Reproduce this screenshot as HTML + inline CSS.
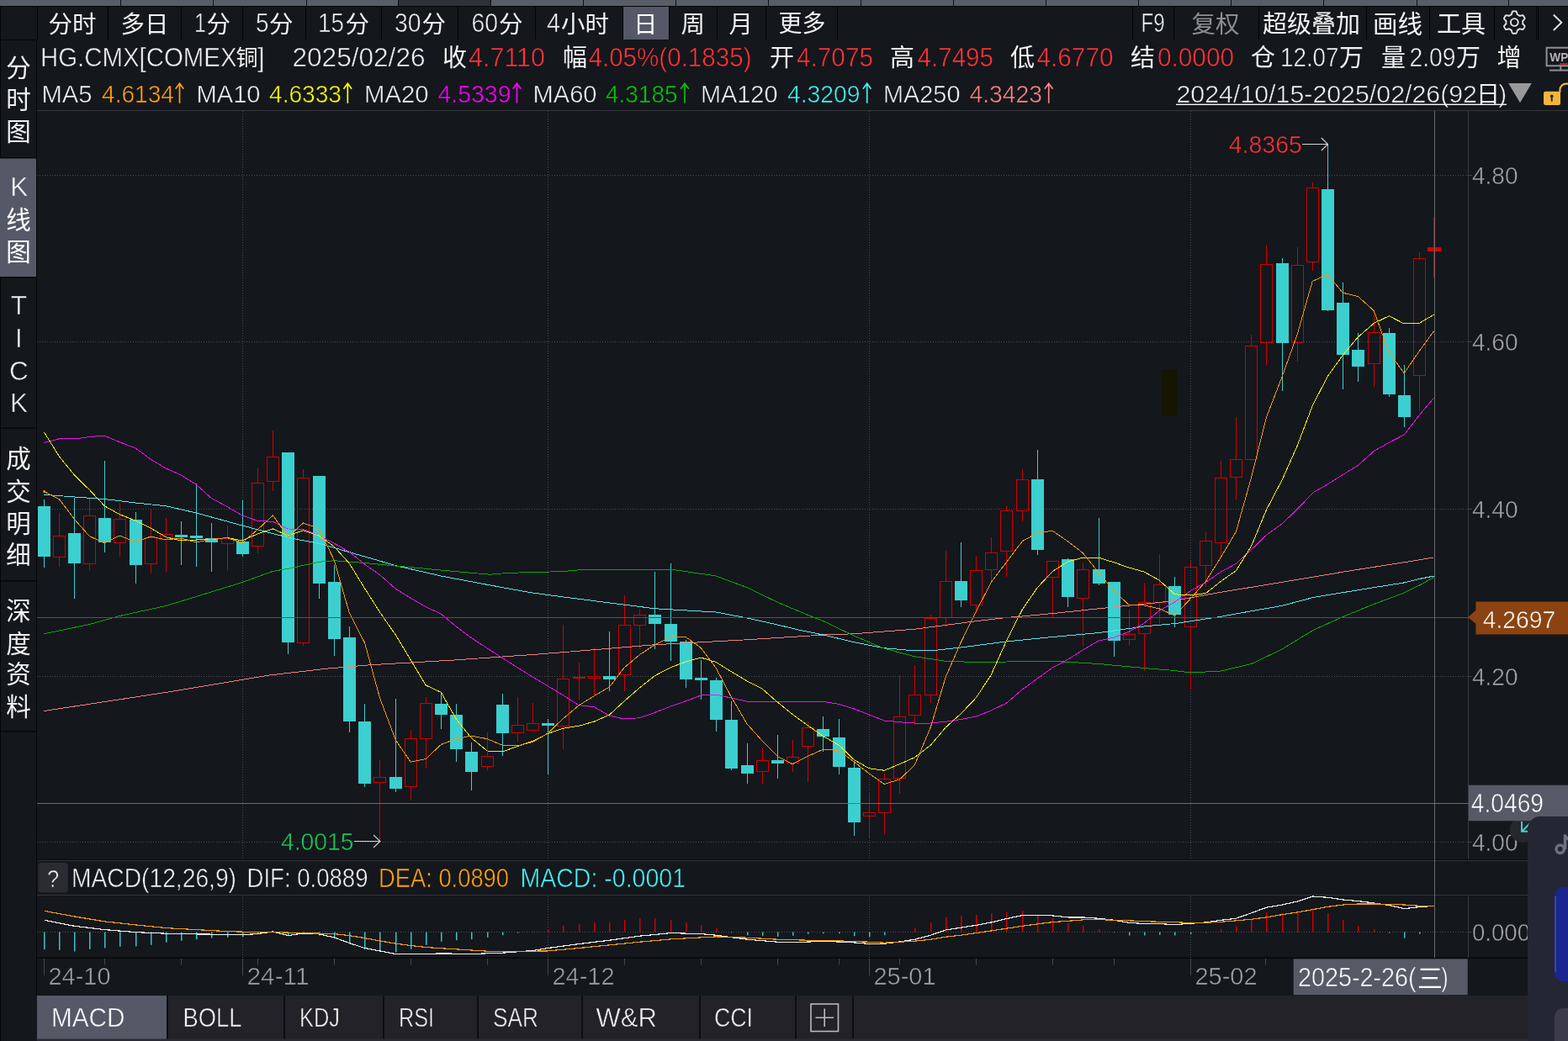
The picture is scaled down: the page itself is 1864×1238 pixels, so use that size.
<!DOCTYPE html>
<html><head><meta charset="utf-8"><title>HG.CMX</title>
<style>html,body{margin:0;padding:0;background:#14171c;overflow:hidden}svg{display:block;will-change:transform}text{font-family:"Liberation Sans","Noto Sans CJK SC",sans-serif;white-space:pre}</style>
</head><body>
<svg width="1864" height="1238" viewBox="0 0 1864 1238" shape-rendering="auto">
<rect x="0" y="0" width="1864" height="1238" fill="#14171c" />
<rect x="0" y="0" width="1864" height="7" fill="#585e68" />
<rect x="473" y="0" width="110" height="7" fill="#2e313a" />
<rect x="143" y="0" width="1" height="7" fill="#101114" />
<rect x="253" y="0" width="1" height="7" fill="#101114" />
<rect x="364" y="0" width="1" height="7" fill="#101114" />
<rect x="473" y="0" width="1" height="7" fill="#101114" />
<rect x="583" y="0" width="1" height="7" fill="#101114" />
<rect x="693" y="0" width="1" height="7" fill="#101114" />
<rect x="803" y="0" width="1" height="7" fill="#101114" />
<rect x="913" y="0" width="1" height="7" fill="#101114" />
<rect x="1023" y="0" width="1" height="7" fill="#101114" />
<rect x="1133" y="0" width="1" height="7" fill="#101114" />
<rect x="1243" y="0" width="1" height="7" fill="#101114" />
<rect x="1353" y="0" width="1" height="7" fill="#101114" />
<rect x="1463" y="0" width="1" height="7" fill="#101114" />
<rect x="1573" y="0" width="1" height="7" fill="#101114" />
<rect x="1684" y="0" width="1" height="7" fill="#101114" />
<rect x="1793" y="0" width="1" height="7" fill="#101114" />
<rect x="0" y="7" width="1864" height="1" fill="#040506" />
<rect x="0" y="47" width="43" height="1" fill="#07080a" />
<rect x="44" y="8" width="1" height="39" fill="#030405" />
<rect x="128" y="8" width="1" height="39" fill="#030405" />
<rect x="215" y="8" width="1" height="39" fill="#030405" />
<rect x="288" y="8" width="1" height="39" fill="#030405" />
<rect x="363" y="8" width="1" height="39" fill="#030405" />
<rect x="453" y="8" width="1" height="39" fill="#030405" />
<rect x="544" y="8" width="1" height="39" fill="#030405" />
<rect x="636" y="8" width="1" height="39" fill="#030405" />
<rect x="740" y="8" width="1" height="39" fill="#030405" />
<rect x="795" y="8" width="1" height="39" fill="#030405" />
<rect x="852" y="8" width="1" height="39" fill="#030405" />
<rect x="910" y="8" width="1" height="39" fill="#030405" />
<rect x="995" y="8" width="1" height="39" fill="#030405" />
<rect x="1346" y="8" width="1" height="39" fill="#030405" />
<rect x="1395" y="8" width="1" height="39" fill="#030405" />
<rect x="1496" y="8" width="1" height="39" fill="#030405" />
<rect x="1624" y="8" width="1" height="39" fill="#030405" />
<rect x="1699" y="8" width="1" height="39" fill="#030405" />
<rect x="1776" y="8" width="1" height="39" fill="#030405" />
<rect x="1826" y="8" width="1" height="39" fill="#030405" />
<rect x="1828" y="8" width="1" height="39" fill="#030405" />
<rect x="741" y="8" width="54" height="39" fill="#555866" />
<text x="57.5" y="38.63" font-size="28.5" fill="#f2f2f2">分</text>
<text x="86" y="38.63" font-size="28.5" fill="#f2f2f2">时</text>
<text x="143.5" y="38.63" font-size="28.5" fill="#f2f2f2">多</text>
<text x="172" y="38.63" font-size="28.5" fill="#f2f2f2">日</text>
<text x="231" y="38.15" font-size="30.4382" fill="#f2f2f2" textLength="14" lengthAdjust="spacingAndGlyphs"  stroke="#14171c" stroke-width="0.55">1</text>
<text x="245.5" y="38.63" font-size="28.5" fill="#f2f2f2">分</text>
<text x="304" y="38.15" font-size="30.4382" fill="#f2f2f2" textLength="15.5" lengthAdjust="spacingAndGlyphs"  stroke="#14171c" stroke-width="0.55">5</text>
<text x="320" y="38.63" font-size="28.5" fill="#f2f2f2">分</text>
<text x="378" y="38.15" font-size="30.4382" fill="#f2f2f2" textLength="31" lengthAdjust="spacingAndGlyphs"  stroke="#14171c" stroke-width="0.55">15</text>
<text x="410.5" y="38.63" font-size="28.5" fill="#f2f2f2">分</text>
<text x="469" y="38.15" font-size="30.4382" fill="#f2f2f2" textLength="31.5" lengthAdjust="spacingAndGlyphs"  stroke="#14171c" stroke-width="0.55">30</text>
<text x="501.5" y="38.63" font-size="28.5" fill="#f2f2f2">分</text>
<text x="560.5" y="38.15" font-size="30.4382" fill="#f2f2f2" textLength="31.5" lengthAdjust="spacingAndGlyphs"  stroke="#14171c" stroke-width="0.55">60</text>
<text x="593" y="38.63" font-size="28.5" fill="#f2f2f2">分</text>
<text x="650" y="38.15" font-size="30.4382" fill="#f2f2f2" textLength="16" lengthAdjust="spacingAndGlyphs"  stroke="#14171c" stroke-width="0.55">4</text>
<text x="667" y="38.63" font-size="28.5" fill="#f2f2f2">小</text>
<text x="695.5" y="38.63" font-size="28.5" fill="#f2f2f2">时</text>
<text x="753" y="38.63" font-size="28.5" fill="#ffffff">日</text>
<text x="809.5" y="38.63" font-size="28.5" fill="#f2f2f2">周</text>
<text x="866.5" y="38.63" font-size="28.5" fill="#f2f2f2">月</text>
<text x="925.5" y="38.44" font-size="28" fill="#f2f2f2">更</text>
<text x="953.5" y="38.44" font-size="28" fill="#f2f2f2">多</text>
<text x="1356.5" y="38.15" font-size="31.558" fill="#f2f2f2" textLength="28" lengthAdjust="spacingAndGlyphs"  stroke="#14171c" stroke-width="0.55">F9</text>
<text x="1416.5" y="38.63" font-size="28.5" fill="#8d8d8d">复</text>
<text x="1445" y="38.63" font-size="28.5" fill="#8d8d8d">权</text>
<text x="1501" y="38.82" font-size="29" fill="#f2f2f2">超</text>
<text x="1530" y="38.82" font-size="29" fill="#f2f2f2">级</text>
<text x="1559" y="38.82" font-size="29" fill="#f2f2f2">叠</text>
<text x="1588" y="38.82" font-size="29" fill="#f2f2f2">加</text>
<text x="1632" y="39.01" font-size="29.5" fill="#f2f2f2">画</text>
<text x="1661.5" y="39.01" font-size="29.5" fill="#f2f2f2">线</text>
<text x="1708" y="38.82" font-size="29" fill="#f2f2f2">工</text>
<text x="1737" y="38.82" font-size="29" fill="#f2f2f2">具</text>
<path d="M1800.30 13.40L1800.65 13.40L1800.99 13.42L1801.34 13.44L1801.68 13.47L1802.02 13.51L1802.36 13.56L1802.66 13.84L1802.90 14.35L1803.11 14.89L1803.29 15.44L1803.44 16.00L1803.57 16.54L1803.68 17.05L1803.85 17.36L1804.09 17.45L1804.33 17.56L1804.56 17.66L1804.79 17.78L1805.02 17.90L1805.25 18.03L1805.47 18.16L1805.69 18.30L1805.91 18.44L1806.12 18.59L1806.33 18.75L1806.53 18.91L1806.88 18.90L1807.38 18.74L1807.91 18.58L1808.47 18.43L1809.03 18.31L1809.60 18.22L1810.16 18.17L1810.56 18.29L1810.77 18.56L1810.98 18.84L1811.18 19.12L1811.37 19.41L1811.55 19.70L1811.73 20.00L1811.90 20.30L1812.06 20.61L1812.21 20.92L1812.36 21.23L1812.50 21.55L1812.62 21.87L1812.53 22.27L1812.21 22.73L1811.84 23.18L1811.46 23.61L1811.05 24.02L1810.65 24.40L1810.26 24.75L1810.08 25.05L1810.12 25.31L1810.15 25.57L1810.17 25.82L1810.19 26.08L1810.20 26.34L1810.20 26.60L1810.20 26.86L1810.19 27.12L1810.17 27.38L1810.15 27.63L1810.12 27.89L1810.08 28.15L1810.26 28.45L1810.65 28.80L1811.05 29.18L1811.46 29.59L1811.84 30.02L1812.21 30.47L1812.53 30.93L1812.62 31.33L1812.50 31.65L1812.36 31.97L1812.21 32.28L1812.06 32.59L1811.90 32.90L1811.73 33.20L1811.55 33.50L1811.37 33.79L1811.18 34.08L1810.98 34.36L1810.77 34.64L1810.56 34.91L1810.16 35.03L1809.60 34.98L1809.03 34.89L1808.47 34.77L1807.91 34.62L1807.38 34.46L1806.88 34.30L1806.53 34.29L1806.33 34.45L1806.12 34.61L1805.91 34.76L1805.69 34.90L1805.47 35.04L1805.25 35.17L1805.02 35.30L1804.79 35.42L1804.56 35.54L1804.33 35.64L1804.09 35.75L1803.85 35.84L1803.68 36.15L1803.57 36.66L1803.44 37.20L1803.29 37.76L1803.11 38.31L1802.90 38.85L1802.66 39.36L1802.36 39.64L1802.02 39.69L1801.68 39.73L1801.34 39.76L1800.99 39.78L1800.65 39.80L1800.30 39.80L1799.95 39.80L1799.61 39.78L1799.26 39.76L1798.92 39.73L1798.58 39.69L1798.24 39.64L1797.94 39.36L1797.70 38.85L1797.49 38.31L1797.31 37.76L1797.16 37.20L1797.03 36.66L1796.92 36.15L1796.75 35.84L1796.51 35.75L1796.27 35.64L1796.04 35.54L1795.81 35.42L1795.58 35.30L1795.35 35.17L1795.13 35.04L1794.91 34.90L1794.69 34.76L1794.48 34.61L1794.27 34.45L1794.07 34.29L1793.72 34.30L1793.22 34.46L1792.69 34.62L1792.13 34.77L1791.57 34.89L1791.00 34.98L1790.44 35.03L1790.04 34.91L1789.83 34.64L1789.62 34.36L1789.42 34.08L1789.23 33.79L1789.05 33.50L1788.87 33.20L1788.70 32.90L1788.54 32.59L1788.39 32.28L1788.24 31.97L1788.10 31.65L1787.98 31.33L1788.07 30.93L1788.39 30.47L1788.76 30.02L1789.14 29.59L1789.55 29.18L1789.95 28.80L1790.34 28.45L1790.52 28.15L1790.48 27.89L1790.45 27.63L1790.43 27.38L1790.41 27.12L1790.40 26.86L1790.40 26.60L1790.40 26.34L1790.41 26.08L1790.43 25.82L1790.45 25.57L1790.48 25.31L1790.52 25.05L1790.34 24.75L1789.95 24.40L1789.55 24.02L1789.14 23.61L1788.76 23.18L1788.39 22.73L1788.07 22.27L1787.98 21.87L1788.10 21.55L1788.24 21.23L1788.39 20.92L1788.54 20.61L1788.70 20.30L1788.87 20.00L1789.05 19.70L1789.23 19.41L1789.42 19.12L1789.62 18.84L1789.83 18.56L1790.04 18.29L1790.44 18.17L1791.00 18.22L1791.57 18.31L1792.13 18.43L1792.69 18.58L1793.22 18.74L1793.72 18.90L1794.07 18.91L1794.27 18.75L1794.48 18.59L1794.69 18.44L1794.91 18.30L1795.13 18.16L1795.35 18.03L1795.58 17.90L1795.81 17.78L1796.04 17.66L1796.27 17.56L1796.51 17.45L1796.75 17.36L1796.92 17.05L1797.03 16.54L1797.16 16.00L1797.31 15.44L1797.49 14.89L1797.70 14.35L1797.94 13.84L1798.24 13.56L1798.58 13.51L1798.92 13.47L1799.26 13.44L1799.61 13.42L1799.95 13.40Z" fill="none" stroke="#e4e4e4" stroke-width="1.9" stroke-linejoin="round"/>
<circle cx="1800.3" cy="26.5" r="4.4" fill="none" stroke="#e4e4e4" stroke-width="1.9"/>
<path d="M1846.8 17.5L1856.3 26.8L1846.8 36" fill="none" stroke="#e4e4e4" stroke-width="1.9"/>
<text x="48" y="78.95" font-size="31.7616" fill="#f2f2f2" textLength="233.5" lengthAdjust="spacingAndGlyphs"  stroke="#14171c" stroke-width="0.55">HG.CMX[COMEX</text>
<text x="280.5" y="78.18" font-size="26" fill="#f2f2f2">铜</text>
<text x="306" y="78.95" font-size="31.7616" fill="#f2f2f2" textLength="8.5" lengthAdjust="spacingAndGlyphs"  stroke="#14171c" stroke-width="0.55">]</text>
<text x="347.5" y="78.95" font-size="30.7436" fill="#f2f2f2" textLength="158" lengthAdjust="spacingAndGlyphs"  stroke="#14171c" stroke-width="0.55">2025/02/26</text>
<text x="526" y="79.32" font-size="29" fill="#f2f2f2">收</text>
<text x="557" y="78.95" font-size="30.7436" fill="#ff3238" textLength="91" lengthAdjust="spacingAndGlyphs"  stroke="#14171c" stroke-width="0.55">4.7110</text>
<text x="669" y="79.32" font-size="29" fill="#f2f2f2">幅</text>
<text x="699.5" y="78.95" font-size="30.7436" fill="#ff3238" textLength="194" lengthAdjust="spacingAndGlyphs"  stroke="#14171c" stroke-width="0.55">4.05%(0.1835)</text>
<text x="915" y="79.32" font-size="29" fill="#f2f2f2">开</text>
<text x="947" y="78.95" font-size="30.7436" fill="#ff3238" textLength="91" lengthAdjust="spacingAndGlyphs"  stroke="#14171c" stroke-width="0.55">4.7075</text>
<text x="1058" y="79.32" font-size="29" fill="#f2f2f2">高</text>
<text x="1090.5" y="78.95" font-size="30.7436" fill="#ff3238" textLength="90.5" lengthAdjust="spacingAndGlyphs"  stroke="#14171c" stroke-width="0.55">4.7495</text>
<text x="1201" y="79.32" font-size="29" fill="#f2f2f2">低</text>
<text x="1232.5" y="78.95" font-size="30.7436" fill="#ff3238" textLength="91" lengthAdjust="spacingAndGlyphs"  stroke="#14171c" stroke-width="0.55">4.6770</text>
<text x="1344" y="79.32" font-size="29" fill="#f2f2f2">结</text>
<text x="1376" y="78.95" font-size="30.7436" fill="#ff3238" textLength="91" lengthAdjust="spacingAndGlyphs"  stroke="#14171c" stroke-width="0.55">0.0000</text>
<text x="1487" y="79.32" font-size="29" fill="#f2f2f2">仓</text>
<text x="1522" y="78.95" font-size="30.7436" fill="#f2f2f2" textLength="69.5" lengthAdjust="spacingAndGlyphs"  stroke="#14171c" stroke-width="0.55">12.07</text>
<text x="1592" y="79.32" font-size="29" fill="#f2f2f2">万</text>
<text x="1642" y="79.32" font-size="29" fill="#f2f2f2">量</text>
<text x="1675.5" y="78.95" font-size="30.7436" fill="#f2f2f2" textLength="55" lengthAdjust="spacingAndGlyphs"  stroke="#14171c" stroke-width="0.55">2.09</text>
<text x="1731" y="79.32" font-size="29" fill="#f2f2f2">万</text>
<text x="1779.5" y="79.32" font-size="29" fill="#f2f2f2">增</text>
<g stroke="#8f9094" fill="none" stroke-width="2"><path d="M1864 56.7H1838.6V78.3H1864"/><path d="M1855.3 78.3V83.5"/><path d="M1842 83.6H1864"/></g>
<text x="1842.3" y="72.85" font-size="14.761" fill="#b4b5b8" textLength="22" lengthAdjust="spacingAndGlyphs" font-weight="bold">WP</text>
<path d="M1854 76.6l1.6-1.2l1.6 1.2l1.6-1.2l1.6 1.2l1.6-1.2l1.6 1.2" stroke="#e02828" stroke-width="1.2" fill="none"/>
<text x="49.5" y="122.05" font-size="30.031" fill="#f2f2f2" textLength="60" lengthAdjust="spacingAndGlyphs"  stroke="#14171c" stroke-width="0.55">MA5</text>
<text x="121" y="122.05" font-size="29.6238" fill="#ffa20a" textLength="86" lengthAdjust="spacingAndGlyphs"  stroke="#14171c" stroke-width="0.55">4.6134</text>
<path d="M213.5 122.8V98.8M208.7 105.8L213.5 99.3L218.3 105.8" stroke="#ffa20a" stroke-width="1.7" fill="none"/>
<text x="233.5" y="122.05" font-size="30.031" fill="#f2f2f2" textLength="76" lengthAdjust="spacingAndGlyphs"  stroke="#14171c" stroke-width="0.55">MA10</text>
<text x="320" y="122.05" font-size="29.6238" fill="#ffff00" textLength="86" lengthAdjust="spacingAndGlyphs"  stroke="#14171c" stroke-width="0.55">4.6333</text>
<path d="M413.3 122.8V98.8M408.5 105.8L413.3 99.3L418.1 105.8" stroke="#ffff00" stroke-width="1.7" fill="none"/>
<text x="433" y="122.05" font-size="30.031" fill="#f2f2f2" textLength="76.5" lengthAdjust="spacingAndGlyphs"  stroke="#14171c" stroke-width="0.55">MA20</text>
<text x="520.5" y="122.05" font-size="29.6238" fill="#ff00ff" textLength="87" lengthAdjust="spacingAndGlyphs"  stroke="#14171c" stroke-width="0.55">4.5339</text>
<path d="M614.5 122.8V98.8M609.7 105.8L614.5 99.3L619.3 105.8" stroke="#ff00ff" stroke-width="1.7" fill="none"/>
<text x="633.5" y="122.05" font-size="30.031" fill="#f2f2f2" textLength="76" lengthAdjust="spacingAndGlyphs"  stroke="#14171c" stroke-width="0.55">MA60</text>
<text x="720" y="122.05" font-size="29.6238" fill="#0bc20b" textLength="85.5" lengthAdjust="spacingAndGlyphs"  stroke="#14171c" stroke-width="0.55">4.3185</text>
<path d="M814 122.8V98.8M809.2 105.8L814 99.3L818.8 105.8" stroke="#0bc20b" stroke-width="1.7" fill="none"/>
<text x="833" y="122.05" font-size="30.031" fill="#f2f2f2" textLength="91.5" lengthAdjust="spacingAndGlyphs"  stroke="#14171c" stroke-width="0.55">MA120</text>
<text x="936" y="122.05" font-size="29.6238" fill="#43f3f3" textLength="86.5" lengthAdjust="spacingAndGlyphs"  stroke="#14171c" stroke-width="0.55">4.3209</text>
<path d="M1030.7 122.8V98.8M1025.9 105.8L1030.7 99.3L1035.5 105.8" stroke="#43f3f3" stroke-width="1.7" fill="none"/>
<text x="1050" y="122.05" font-size="30.031" fill="#f2f2f2" textLength="91.5" lengthAdjust="spacingAndGlyphs"  stroke="#14171c" stroke-width="0.55">MA250</text>
<text x="1152.5" y="122.05" font-size="29.6238" fill="#ff8585" textLength="86.5" lengthAdjust="spacingAndGlyphs"  stroke="#14171c" stroke-width="0.55">4.3423</text>
<path d="M1246.7 122.8V98.8M1241.9 105.8L1246.7 99.3L1251.5 105.8" stroke="#ff8585" stroke-width="1.7" fill="none"/>
<text x="1398.5" y="122.05" font-size="29.6238" fill="#f2f2f2" textLength="357.5" lengthAdjust="spacingAndGlyphs"  stroke="#14171c" stroke-width="0.55">2024/10/15-2025/02/26(92</text>
<text x="1755" y="122.14" font-size="28" fill="#f2f2f2">日</text>
<text x="1781.5" y="122.05" font-size="30.031" fill="#f2f2f2" textLength="9.5" lengthAdjust="spacingAndGlyphs"  stroke="#14171c" stroke-width="0.55">)</text>
<rect x="1398" y="123.6" width="393" height="1.4" fill="#f2f2f2" />
<path d="M1793.2 99H1820.8L1807 122.3Z" fill="#999999"/>
<rect x="1835" y="108.8" width="20" height="16.2" rx="2.2" fill="#f0b53c"/>
<path d="M1854.4 110V106.8a7.2 7.2 0 0 1 7.2-7.2H1866" stroke="#f0b53c" stroke-width="2.1" fill="none"/>
<circle cx="1844.7" cy="114.3" r="1.8" fill="#20232a"/><rect x="1843.8" y="114.3" width="1.8" height="6.3" fill="#20232a"/>
<rect x="43" y="47" width="1" height="1137" fill="#07080a" />
<rect x="0" y="7" width="1" height="1231" fill="#050608" />
<rect x="0" y="188" width="43" height="141" fill="#555866" />
<rect x="0" y="187" width="43" height="1.5" fill="#07080a" />
<rect x="0" y="329.5" width="43" height="1.5" fill="#07080a" />
<rect x="0" y="508.5" width="43" height="1.5" fill="#07080a" />
<rect x="0" y="690" width="43" height="1.5" fill="#07080a" />
<rect x="0" y="869" width="43" height="1.5" fill="#07080a" />
<text x="7.3" y="90.71" font-size="29.5" fill="#f2f2f2">分</text>
<text x="7.3" y="129.21" font-size="29.5" fill="#f2f2f2">时</text>
<text x="7.3" y="166.91" font-size="29.5" fill="#f2f2f2">图</text>
<text x="22.8" y="233.05" font-size="31.558" fill="#ffffff" text-anchor="middle"  stroke="#555866" stroke-width="0.55">K</text>
<text x="7.3" y="272.21" font-size="29.5" fill="#ffffff">线</text>
<text x="7.3" y="309.91" font-size="29.5" fill="#ffffff">图</text>
<text x="22.5" y="374.45" font-size="31.558" fill="#f2f2f2" text-anchor="middle"  stroke="#14171c" stroke-width="0.55">T</text>
<text x="22.5" y="413.25" font-size="31.558" fill="#f2f2f2" text-anchor="middle"  stroke="#14171c" stroke-width="0.55">I</text>
<text x="22.5" y="452.05" font-size="31.558" fill="#f2f2f2" text-anchor="middle"  stroke="#14171c" stroke-width="0.55">C</text>
<text x="22.5" y="489.65" font-size="31.558" fill="#f2f2f2" text-anchor="middle"  stroke="#14171c" stroke-width="0.55">K</text>
<text x="7.3" y="556.21" font-size="29.5" fill="#f2f2f2">成</text>
<text x="7.3" y="594.71" font-size="29.5" fill="#f2f2f2">交</text>
<text x="7.3" y="632.71" font-size="29.5" fill="#f2f2f2">明</text>
<text x="7.3" y="669.71" font-size="29.5" fill="#f2f2f2">细</text>
<text x="7.3" y="736.71" font-size="29.5" fill="#f2f2f2">深</text>
<text x="7.3" y="775.71" font-size="29.5" fill="#f2f2f2">度</text>
<text x="7.3" y="812.21" font-size="29.5" fill="#f2f2f2">资</text>
<text x="7.3" y="851.21" font-size="29.5" fill="#f2f2f2">料</text>
<rect x="44" y="131" width="1820" height="1" fill="#34363c" />
<rect x="44" y="1022" width="1772" height="1" fill="#08090b" />
<rect x="44" y="1023" width="1772" height="1" fill="#33353b" />
<rect x="44" y="1064" width="1772" height="1" fill="#33353b" />
<rect x="44" y="1138.5" width="1772" height="1.5" fill="#08090b" />
<rect x="1745" y="132" width="1" height="890" fill="#383a41" />
<rect x="1745" y="1066" width="1" height="73" fill="#383a41" />
<line x1="44" y1="208.5" x2="1745" y2="208.5" stroke="#484a51" stroke-width="1" stroke-dasharray="1 2"/>
<line x1="44" y1="406.5" x2="1745" y2="406.5" stroke="#484a51" stroke-width="1" stroke-dasharray="1 2"/>
<line x1="44" y1="605.5" x2="1745" y2="605.5" stroke="#484a51" stroke-width="1" stroke-dasharray="1 2"/>
<line x1="44" y1="804.5" x2="1745" y2="804.5" stroke="#484a51" stroke-width="1" stroke-dasharray="1 2"/>
<line x1="44" y1="1001.5" x2="1745" y2="1001.5" stroke="#484a51" stroke-width="1" stroke-dasharray="1 2"/>
<line x1="44" y1="1108.5" x2="1745" y2="1108.5" stroke="#484a51" stroke-width="1" stroke-dasharray="1 2"/>
<line x1="288.5" y1="132" x2="288.5" y2="1022" stroke="#484a51" stroke-width="1" stroke-dasharray="1 2"/>
<line x1="288.5" y1="1066" x2="288.5" y2="1139" stroke="#484a51" stroke-width="1" stroke-dasharray="1 2"/>
<line x1="651.5" y1="132" x2="651.5" y2="1022" stroke="#484a51" stroke-width="1" stroke-dasharray="1 2"/>
<line x1="651.5" y1="1066" x2="651.5" y2="1139" stroke="#484a51" stroke-width="1" stroke-dasharray="1 2"/>
<line x1="1033.5" y1="132" x2="1033.5" y2="1022" stroke="#484a51" stroke-width="1" stroke-dasharray="1 2"/>
<line x1="1033.5" y1="1066" x2="1033.5" y2="1139" stroke="#484a51" stroke-width="1" stroke-dasharray="1 2"/>
<line x1="1415.5" y1="132" x2="1415.5" y2="1022" stroke="#484a51" stroke-width="1" stroke-dasharray="1 2"/>
<line x1="1415.5" y1="1066" x2="1415.5" y2="1139" stroke="#484a51" stroke-width="1" stroke-dasharray="1 2"/>
<rect x="1744" y="208" width="6" height="1" fill="#3e4046" />
<rect x="1744" y="406" width="6" height="1" fill="#3e4046" />
<rect x="1744" y="605" width="6" height="1" fill="#3e4046" />
<rect x="1744" y="804" width="6" height="1" fill="#3e4046" />
<rect x="1744" y="1001" width="6" height="1" fill="#3e4046" />
<rect x="1744" y="1108" width="6" height="1" fill="#3e4046" />
<rect x="1381" y="439" width="18" height="55" fill="#151500" />
<rect x="52" y="594" width="1" height="81" fill="#3ccfd0" />
<rect x="45" y="602" width="15" height="60" fill="#3ccfd0" />
<rect x="70" y="610" width="1" height="27" fill="#d00000" />
<rect x="70" y="663" width="1" height="11" fill="#d00000" />
<rect x="63.5" y="637.5" width="14" height="25" fill="none" stroke="#d00000" stroke-width="1"/>
<rect x="88" y="592" width="1" height="120" fill="#3ccfd0" />
<rect x="81" y="634" width="15" height="36" fill="#3ccfd0" />
<rect x="106" y="593" width="1" height="20" fill="#d00000" />
<rect x="106" y="671" width="1" height="7" fill="#d00000" />
<rect x="99.5" y="613.5" width="14" height="57" fill="none" stroke="#d00000" stroke-width="1"/>
<rect x="124" y="548" width="1" height="109" fill="#3ccfd0" />
<rect x="117" y="616" width="15" height="29" fill="#3ccfd0" />
<rect x="142" y="598" width="1" height="19" fill="#d00000" />
<rect x="142" y="646" width="1" height="16" fill="#d00000" />
<rect x="135.5" y="617.5" width="14" height="28" fill="none" stroke="#d00000" stroke-width="1"/>
<rect x="161" y="609" width="1" height="85" fill="#3ccfd0" />
<rect x="154" y="618" width="15" height="54" fill="#3ccfd0" />
<rect x="179" y="606" width="1" height="33" fill="#d00000" />
<rect x="179" y="671" width="1" height="11" fill="#d00000" />
<rect x="172.5" y="639.5" width="14" height="31" fill="none" stroke="#d00000" stroke-width="1"/>
<rect x="197" y="616" width="1" height="19" fill="#d00000" />
<rect x="197" y="642" width="1" height="38" fill="#d00000" />
<rect x="190.5" y="635.5" width="14" height="6" fill="none" stroke="#d00000" stroke-width="1"/>
<rect x="215" y="620" width="1" height="52" fill="#3ccfd0" />
<rect x="208" y="636" width="15" height="3" fill="#3ccfd0" />
<rect x="233" y="575" width="1" height="99" fill="#3ccfd0" />
<rect x="226" y="637" width="15" height="3" fill="#3ccfd0" />
<rect x="251" y="622" width="1" height="58" fill="#3ccfd0" />
<rect x="244" y="640" width="15" height="5" fill="#3ccfd0" />
<rect x="270" y="625" width="1" height="15" fill="#d00000" />
<rect x="270" y="647" width="1" height="31" fill="#d00000" />
<rect x="263.5" y="640.5" width="14" height="6" fill="none" stroke="#d00000" stroke-width="1"/>
<rect x="288" y="595" width="1" height="67" fill="#3ccfd0" />
<rect x="281" y="644" width="15" height="15" fill="#3ccfd0" />
<rect x="306" y="556" width="1" height="18" fill="#d00000" />
<rect x="306" y="650" width="1" height="8" fill="#d00000" />
<rect x="299.5" y="574.5" width="14" height="75" fill="none" stroke="#d00000" stroke-width="1"/>
<rect x="324" y="512" width="1" height="31" fill="#d00000" />
<rect x="324" y="573" width="1" height="11" fill="#d00000" />
<rect x="317.5" y="543.5" width="14" height="29" fill="none" stroke="#d00000" stroke-width="1"/>
<rect x="342" y="538" width="1" height="240" fill="#3ccfd0" />
<rect x="335" y="538" width="15" height="226" fill="#3ccfd0" />
<rect x="360" y="558" width="1" height="10" fill="#d00000" />
<rect x="360" y="765" width="1" height="3" fill="#d00000" />
<rect x="353.5" y="568.5" width="14" height="196" fill="none" stroke="#d00000" stroke-width="1"/>
<rect x="379" y="566" width="1" height="146" fill="#3ccfd0" />
<rect x="372" y="566" width="15" height="128" fill="#3ccfd0" />
<rect x="397" y="672" width="1" height="108" fill="#3ccfd0" />
<rect x="390" y="692" width="15" height="68" fill="#3ccfd0" />
<rect x="415" y="745" width="1" height="126" fill="#3ccfd0" />
<rect x="408" y="758" width="15" height="100" fill="#3ccfd0" />
<rect x="433" y="837" width="1" height="99" fill="#3ccfd0" />
<rect x="426" y="858" width="15" height="74" fill="#3ccfd0" />
<rect x="451" y="904" width="1" height="20" fill="#d00000" />
<rect x="451" y="931" width="1" height="69" fill="#d00000" />
<rect x="444.5" y="924.5" width="14" height="6" fill="none" stroke="#d00000" stroke-width="1"/>
<rect x="470" y="831" width="1" height="111" fill="#3ccfd0" />
<rect x="463" y="924" width="15" height="14" fill="#3ccfd0" />
<rect x="488" y="868" width="1" height="10" fill="#d00000" />
<rect x="488" y="936" width="1" height="16" fill="#d00000" />
<rect x="481.5" y="878.5" width="14" height="57" fill="none" stroke="#d00000" stroke-width="1"/>
<rect x="506" y="829" width="1" height="7" fill="#d00000" />
<rect x="506" y="879" width="1" height="35" fill="#d00000" />
<rect x="499.5" y="836.5" width="14" height="42" fill="none" stroke="#d00000" stroke-width="1"/>
<rect x="524" y="824" width="1" height="43" fill="#3ccfd0" />
<rect x="517" y="837" width="15" height="13" fill="#3ccfd0" />
<rect x="542" y="837" width="1" height="69" fill="#3ccfd0" />
<rect x="535" y="850" width="15" height="41" fill="#3ccfd0" />
<rect x="560" y="883" width="1" height="57" fill="#3ccfd0" />
<rect x="553" y="894" width="15" height="24" fill="#3ccfd0" />
<rect x="579" y="871" width="1" height="28" fill="#d00000" />
<rect x="579" y="912" width="1" height="4" fill="#d00000" />
<rect x="572.5" y="899.5" width="14" height="12" fill="none" stroke="#d00000" stroke-width="1"/>
<rect x="597" y="825" width="1" height="74" fill="#3ccfd0" />
<rect x="590" y="838" width="15" height="34" fill="#3ccfd0" />
<rect x="615" y="829" width="1" height="33" fill="#d00000" />
<rect x="615" y="872" width="1" height="10" fill="#d00000" />
<rect x="608.5" y="862.5" width="14" height="9" fill="none" stroke="#d00000" stroke-width="1"/>
<rect x="633" y="836" width="1" height="24" fill="#d00000" />
<rect x="626.5" y="860.5" width="14" height="8" fill="none" stroke="#d00000" stroke-width="1"/>
<rect x="651" y="855" width="1" height="66" fill="#3ccfd0" />
<rect x="644" y="860" width="15" height="3" fill="#3ccfd0" />
<rect x="669" y="743" width="1" height="64" fill="#d00000" />
<rect x="669" y="864" width="1" height="27" fill="#d00000" />
<rect x="662.5" y="807.5" width="14" height="56" fill="none" stroke="#d00000" stroke-width="1"/>
<rect x="688" y="788" width="1" height="17" fill="#d00000" />
<rect x="688" y="807" width="1" height="26" fill="#d00000" />
<rect x="681" y="805" width="15" height="2" fill="#d00000" />
<rect x="706" y="770" width="1" height="34" fill="#d00000" />
<rect x="706" y="807" width="1" height="21" fill="#d00000" />
<rect x="699.5" y="804.5" width="14" height="2" fill="none" stroke="#d00000" stroke-width="1"/>
<rect x="724" y="751" width="1" height="71" fill="#3ccfd0" />
<rect x="717" y="804" width="15" height="4" fill="#3ccfd0" />
<rect x="742" y="708" width="1" height="35" fill="#d00000" />
<rect x="742" y="803" width="1" height="19" fill="#d00000" />
<rect x="735.5" y="743.5" width="14" height="59" fill="none" stroke="#d00000" stroke-width="1"/>
<rect x="760" y="725" width="1" height="6" fill="#d00000" />
<rect x="760" y="744" width="1" height="28" fill="#d00000" />
<rect x="753.5" y="731.5" width="14" height="12" fill="none" stroke="#d00000" stroke-width="1"/>
<rect x="778" y="680" width="1" height="92" fill="#3ccfd0" />
<rect x="771" y="731" width="15" height="11" fill="#3ccfd0" />
<rect x="797" y="670" width="1" height="116" fill="#3ccfd0" />
<rect x="790" y="742" width="15" height="21" fill="#3ccfd0" />
<rect x="815" y="761" width="1" height="57" fill="#3ccfd0" />
<rect x="808" y="763" width="15" height="45" fill="#3ccfd0" />
<rect x="833" y="785" width="1" height="47" fill="#3ccfd0" />
<rect x="826" y="806" width="15" height="3" fill="#3ccfd0" />
<rect x="851" y="806" width="1" height="64" fill="#3ccfd0" />
<rect x="844" y="809" width="15" height="47" fill="#3ccfd0" />
<rect x="869" y="834" width="1" height="82" fill="#3ccfd0" />
<rect x="862" y="856" width="15" height="58" fill="#3ccfd0" />
<rect x="888" y="884" width="1" height="48" fill="#3ccfd0" />
<rect x="881" y="910" width="15" height="10" fill="#3ccfd0" />
<rect x="906" y="890" width="1" height="14" fill="#d00000" />
<rect x="906" y="918" width="1" height="14" fill="#d00000" />
<rect x="899.5" y="904.5" width="14" height="13" fill="none" stroke="#d00000" stroke-width="1"/>
<rect x="924" y="874" width="1" height="52" fill="#3ccfd0" />
<rect x="917" y="904" width="15" height="4" fill="#3ccfd0" />
<rect x="942" y="880" width="1" height="20" fill="#d00000" />
<rect x="942" y="908" width="1" height="10" fill="#d00000" />
<rect x="935.5" y="900.5" width="14" height="7" fill="none" stroke="#d00000" stroke-width="1"/>
<rect x="960" y="858" width="1" height="7" fill="#d00000" />
<rect x="960" y="888" width="1" height="42" fill="#d00000" />
<rect x="953.5" y="865.5" width="14" height="22" fill="none" stroke="#d00000" stroke-width="1"/>
<rect x="978" y="852" width="1" height="42" fill="#3ccfd0" />
<rect x="971" y="867" width="15" height="9" fill="#3ccfd0" />
<rect x="997" y="855" width="1" height="66" fill="#3ccfd0" />
<rect x="990" y="877" width="15" height="35" fill="#3ccfd0" />
<rect x="1015" y="905" width="1" height="89" fill="#3ccfd0" />
<rect x="1008" y="913" width="15" height="65" fill="#3ccfd0" />
<rect x="1033" y="944" width="1" height="22" fill="#d00000" />
<rect x="1033" y="971" width="1" height="25" fill="#d00000" />
<rect x="1026.5" y="966.5" width="14" height="4" fill="none" stroke="#d00000" stroke-width="1"/>
<rect x="1051" y="920" width="1" height="6" fill="#d00000" />
<rect x="1051" y="967" width="1" height="25" fill="#d00000" />
<rect x="1044.5" y="926.5" width="14" height="40" fill="none" stroke="#d00000" stroke-width="1"/>
<rect x="1069" y="803" width="1" height="49" fill="#d00000" />
<rect x="1069" y="926" width="1" height="18" fill="#d00000" />
<rect x="1062.5" y="852.5" width="14" height="73" fill="none" stroke="#d00000" stroke-width="1"/>
<rect x="1087" y="791" width="1" height="35" fill="#d00000" />
<rect x="1087" y="851" width="1" height="11" fill="#d00000" />
<rect x="1080.5" y="826.5" width="14" height="24" fill="none" stroke="#d00000" stroke-width="1"/>
<rect x="1106" y="731" width="1" height="4" fill="#d00000" />
<rect x="1106" y="827" width="1" height="9" fill="#d00000" />
<rect x="1099.5" y="735.5" width="14" height="91" fill="none" stroke="#d00000" stroke-width="1"/>
<rect x="1124" y="655" width="1" height="36" fill="#d00000" />
<rect x="1124" y="735" width="1" height="11" fill="#d00000" />
<rect x="1117.5" y="691.5" width="14" height="43" fill="none" stroke="#d00000" stroke-width="1"/>
<rect x="1142" y="645" width="1" height="77" fill="#3ccfd0" />
<rect x="1135" y="691" width="15" height="23" fill="#3ccfd0" />
<rect x="1160" y="661" width="1" height="17" fill="#d00000" />
<rect x="1160" y="720" width="1" height="9" fill="#d00000" />
<rect x="1153.5" y="678.5" width="14" height="41" fill="none" stroke="#d00000" stroke-width="1"/>
<rect x="1178" y="639" width="1" height="18" fill="#d00000" />
<rect x="1178" y="678" width="1" height="14" fill="#d00000" />
<rect x="1171.5" y="657.5" width="14" height="20" fill="none" stroke="#d00000" stroke-width="1"/>
<rect x="1196" y="601" width="1" height="6" fill="#d00000" />
<rect x="1196" y="656" width="1" height="30" fill="#d00000" />
<rect x="1189.5" y="607.5" width="14" height="48" fill="none" stroke="#d00000" stroke-width="1"/>
<rect x="1215" y="558" width="1" height="12" fill="#d00000" />
<rect x="1215" y="608" width="1" height="12" fill="#d00000" />
<rect x="1208.5" y="570.5" width="14" height="37" fill="none" stroke="#d00000" stroke-width="1"/>
<rect x="1233" y="535" width="1" height="125" fill="#3ccfd0" />
<rect x="1226" y="570" width="15" height="84" fill="#3ccfd0" />
<rect x="1251" y="687" width="1" height="47" fill="#d00000" />
<rect x="1244.5" y="667.5" width="14" height="19" fill="none" stroke="#d00000" stroke-width="1"/>
<rect x="1269" y="664" width="1" height="58" fill="#3ccfd0" />
<rect x="1262" y="665" width="15" height="45" fill="#3ccfd0" />
<rect x="1287" y="669" width="1" height="8" fill="#d00000" />
<rect x="1287" y="712" width="1" height="56" fill="#d00000" />
<rect x="1280.5" y="677.5" width="14" height="34" fill="none" stroke="#d00000" stroke-width="1"/>
<rect x="1306" y="616" width="1" height="80" fill="#3ccfd0" />
<rect x="1299" y="677" width="15" height="17" fill="#3ccfd0" />
<rect x="1324" y="692" width="1" height="89" fill="#3ccfd0" />
<rect x="1317" y="692" width="15" height="70" fill="#3ccfd0" />
<rect x="1342" y="725" width="1" height="29" fill="#d00000" />
<rect x="1342" y="761" width="1" height="7" fill="#d00000" />
<rect x="1335.5" y="754.5" width="14" height="6" fill="none" stroke="#d00000" stroke-width="1"/>
<rect x="1360" y="693" width="1" height="23" fill="#d00000" />
<rect x="1360" y="754" width="1" height="44" fill="#d00000" />
<rect x="1353.5" y="716.5" width="14" height="37" fill="none" stroke="#d00000" stroke-width="1"/>
<rect x="1378" y="659" width="1" height="36" fill="#d00000" />
<rect x="1378" y="717" width="1" height="25" fill="#d00000" />
<rect x="1371.5" y="695.5" width="14" height="21" fill="none" stroke="#d00000" stroke-width="1"/>
<rect x="1396" y="686" width="1" height="60" fill="#3ccfd0" />
<rect x="1389" y="697" width="15" height="34" fill="#3ccfd0" />
<rect x="1415" y="667" width="1" height="7" fill="#d00000" />
<rect x="1415" y="746" width="1" height="74" fill="#d00000" />
<rect x="1408.5" y="674.5" width="14" height="71" fill="none" stroke="#d00000" stroke-width="1"/>
<rect x="1433" y="633" width="1" height="10" fill="#d00000" />
<rect x="1433" y="673" width="1" height="25" fill="#d00000" />
<rect x="1426.5" y="643.5" width="14" height="29" fill="none" stroke="#d00000" stroke-width="1"/>
<rect x="1451" y="548" width="1" height="20" fill="#d00000" />
<rect x="1451" y="646" width="1" height="18" fill="#d00000" />
<rect x="1444.5" y="568.5" width="14" height="77" fill="none" stroke="#d00000" stroke-width="1"/>
<rect x="1469" y="496" width="1" height="50" fill="#d00000" />
<rect x="1469" y="568" width="1" height="26" fill="#d00000" />
<rect x="1462.5" y="546.5" width="14" height="21" fill="none" stroke="#d00000" stroke-width="1"/>
<rect x="1487" y="398" width="1" height="13" fill="#d00000" />
<rect x="1487" y="547" width="1" height="1" fill="#d00000" />
<rect x="1480.5" y="411.5" width="14" height="135" fill="none" stroke="#d00000" stroke-width="1"/>
<rect x="1505" y="292" width="1" height="22" fill="#d00000" />
<rect x="1505" y="408" width="1" height="26" fill="#d00000" />
<rect x="1498.5" y="314.5" width="14" height="93" fill="none" stroke="#d00000" stroke-width="1"/>
<rect x="1524" y="307" width="1" height="158" fill="#3ccfd0" />
<rect x="1517" y="313" width="15" height="95" fill="#3ccfd0" />
<rect x="1542" y="294" width="1" height="21" fill="#d00000" />
<rect x="1542" y="408" width="1" height="22" fill="#d00000" />
<rect x="1535.5" y="315.5" width="14" height="92" fill="none" stroke="#d00000" stroke-width="1"/>
<rect x="1560" y="217" width="1" height="6" fill="#d00000" />
<rect x="1560" y="312" width="1" height="10" fill="#d00000" />
<rect x="1553.5" y="223.5" width="14" height="88" fill="none" stroke="#d00000" stroke-width="1"/>
<rect x="1578" y="172" width="1" height="198" fill="#3ccfd0" />
<rect x="1571" y="225" width="15" height="144" fill="#3ccfd0" />
<rect x="1596" y="336" width="1" height="127" fill="#3ccfd0" />
<rect x="1589" y="360" width="15" height="62" fill="#3ccfd0" />
<rect x="1614" y="396" width="1" height="58" fill="#3ccfd0" />
<rect x="1607" y="416" width="15" height="20" fill="#3ccfd0" />
<rect x="1633" y="369" width="1" height="26" fill="#d00000" />
<rect x="1633" y="433" width="1" height="27" fill="#d00000" />
<rect x="1626.5" y="395.5" width="14" height="37" fill="none" stroke="#d00000" stroke-width="1"/>
<rect x="1651" y="390" width="1" height="82" fill="#3ccfd0" />
<rect x="1644" y="396" width="15" height="73" fill="#3ccfd0" />
<rect x="1669" y="434" width="1" height="74" fill="#3ccfd0" />
<rect x="1662" y="470" width="15" height="26" fill="#3ccfd0" />
<rect x="1687" y="300" width="1" height="7" fill="#d00000" />
<rect x="1687" y="447" width="1" height="42" fill="#d00000" />
<rect x="1680.5" y="307.5" width="14" height="139" fill="none" stroke="#d00000" stroke-width="1"/>
<rect x="1704" y="258" width="1" height="72" fill="#d00000" />
<rect x="1697" y="294" width="16" height="5" fill="#d80000" />
<path d="M52.5 845.5L200 823L320 803L390 795L440 790.75L540 785L640 778L699.5 773.25L778.25 766.75L888.25 760.75L979.5 755L1015.5 753.75L1087.25 748.25L1160 738.75L1196.25 734.5L1215 733L1259.5 728.75L1306.25 723.75L1380 716.25L1399.5 713.75L1451.5 704.25L1523.25 692.5L1597.5 680L1689.5 665.5L1704.5 663" fill="none" stroke="#f08080" stroke-width="1.0" stroke-linejoin="round" shape-rendering="crispEdges"/>
<path d="M52.5 588.25L88.5 591L124.25 593.5L161.25 598L197.25 601.75L233.25 610L288 625L324 634.5L353.5 641.5L379.25 646.25L433.75 662L470 672.5L524.25 685L577.5 695L629.5 704.5L670 710L778.25 723.75L851.25 728L888.25 735L924.25 743L950 749.25L978.5 755L1015.5 763.75L1051.25 770.75L1080 773.25L1112.5 773.25L1142.25 770L1196.25 763L1251.25 757.5L1306.25 752.5L1360 745L1399.5 741.25L1415.5 738.75L1451.5 733.25L1487.5 726.75L1523.25 720.5L1561.25 710.5L1597.5 704.5L1632.5 698.75L1667.5 693.25L1689.5 688L1704.5 685" fill="none" stroke="#55eaea" stroke-width="1.0" stroke-linejoin="round" shape-rendering="crispEdges"/>
<path d="M52.5 753.75L106.25 742.5L142.25 732.5L197.25 720.5L233.25 709.5L288 692.5L324 679.5L342.5 676.25L379.25 668.25L397.25 666.75L433.75 669.5L470 673L524.25 678L560 681.25L582.5 683.25L605 681.25L629.5 680.75L670 679.5L697.25 677L797.25 677L851.25 685L888.25 698.75L924.25 716.25L960 731.25L978.5 738.5L1015.5 756.25L1051.25 771.25L1087.25 780.75L1124 786.25L1160 787.5L1252.5 786.25L1306.25 789.5L1360 794.5L1396.5 797.5L1415.5 800L1451.5 798L1487.5 789.5L1523.25 772.5L1561.25 749.25L1597.5 733L1632.5 718.75L1667.5 705.75L1689.5 695L1704.5 686.5" fill="none" stroke="#0aa80a" stroke-width="1.0" stroke-linejoin="round" shape-rendering="crispEdges"/>
<path d="M52.5 526.5L70.5 521.75L88.5 522L106.25 519.5L124.25 518.25L142.25 525.75L161.25 533L179.25 546.25L197.25 557L215.25 565L233.25 576.25L251.25 592.5L270 602.5L288 613L306 619.25L324.5 620.5L342.5 629L360.5 629.25L379.25 637L397.25 646.25L415.25 656.25L433.75 671.25L451.75 683.75L470 700L488 711.25L506.25 721.75L524.25 730L542.25 745L560.25 758.5L579.25 771L597.25 782.5L615.25 794L633.25 805L651.25 815.75L669 826.5L688.25 838.75L706.5 840.75L724.5 851.25L742.25 855L760.25 853.75L778.25 847.5L797.25 840L815.25 833.75L833.25 827L851.25 826.25L869.25 830L888.25 834.25L978.5 834.25L997.5 837.5L1015.5 843L1033.25 850L1051.25 857L1069.25 858.75L1087.25 860L1106.25 860L1124.25 858.25L1142.25 855.5L1160.25 852L1178.25 845L1196.25 836.25L1215.25 820L1233.25 807L1251.25 794L1269.25 784.5L1287.25 773L1306.25 762L1324 758.25L1342 751.25L1360 741.25L1378 726.25L1396.5 716L1415.5 702.5L1433.5 692.5L1451.5 680L1469.5 670.25L1487.5 653.75L1505.5 636.25L1524.25 622.75L1542.25 605.5L1561.25 585.5L1578.25 576L1596.25 564.5L1614.25 553.5L1633.25 536.5L1651.25 526.25L1669.25 517L1687.25 493.75L1704.5 473.25" fill="none" stroke="#f010f0" stroke-width="1.0" stroke-linejoin="round" shape-rendering="crispEdges"/>
<path d="M52.5 514L70.5 543L88.5 565L106.25 582.5L124.25 601.75L142.25 611.75L161.25 619.25L179.25 628L197.25 638.75L215.25 643L233.25 642L251.25 641.5L270 639.5L288 643L306 635L324.5 629L342.5 637L360.5 630.75L379.25 637L397.25 650L415.25 670L433.75 700L451.5 728L470.25 755L488.25 785L506.25 815L524.25 823.25L542.25 855L560.25 877.5L579.25 893L597.25 894L615.25 887.5L633.25 881.25L651.25 872.5L669 866.25L688.25 863.25L706.5 858L724.5 850L742.25 833.75L760.25 818L778.25 803.75L797.25 793.75L815.25 787L833.25 782L851.25 787.5L869.25 798.75L888.25 810L906.25 819.25L924.25 835L942 849.5L960 862.5L978.5 875.5L997.5 886.25L1015.5 903.75L1033.25 913.75L1051.25 916.25L1069.25 908.75L1087.25 900.75L1106.25 886.25L1124.25 865L1142.25 848.75L1160.25 830L1178.25 802.5L1196.25 762.5L1215.25 725L1233.25 698.75L1251.25 679.5L1269.25 668L1287.25 663.25L1306.25 663.25L1324 668.75L1342 675L1360 680L1378 690L1396.5 706.75L1415.5 708L1433.5 705.5L1451.5 691.25L1469.5 678.5L1487.5 649.5L1505.5 606.25L1524.25 570.5L1542.25 530L1560.25 482.5L1578.25 447.5L1596.25 422.5L1614.25 401L1633.25 384.5L1651.25 375.75L1669.25 385L1687.25 384.25L1704.5 374.25" fill="none" stroke="#f4f400" stroke-width="1.0" stroke-linejoin="round" shape-rendering="crispEdges"/>
<path d="M52.5 584.5L70.5 593.75L88.5 617.5L106.25 637.5L124.25 646L142.25 637L161.25 644.5L179.25 638L197.25 642L215.25 640L233.25 645L251.25 641.25L270 639.5L288 645.5L306 630L324.5 613L342.5 638.25L360.5 622L379.25 628.75L397.25 666.25L415.25 728.75L433.75 765L451.5 830L470.25 880L488.25 906.25L506.25 902.5L524.25 885.5L542.25 878.75L560.25 875L579.25 878.75L597.25 886.25L615.25 887L633.25 882.5L651.25 872L669 855L688.25 838.75L706.5 827.5L724.5 817L742.25 793.75L760.25 778.75L778.25 766.75L797.25 757.5L815.25 757.5L833.25 770.5L851.25 794.5L869.25 828.75L888.25 861.25L906.25 881.25L924.25 899.5L942 908.75L960 899.5L978.5 891.25L997.5 892.5L1015.5 906.25L1033.25 920L1051.25 932.5L1069.25 927L1087.25 910L1106.25 865L1124.25 805L1142.25 764L1160.25 727.5L1178.25 692.5L1196.25 668.75L1215.25 643.75L1233.25 633.75L1251.25 631.25L1269.25 643.75L1287.25 657.5L1306.25 681.25L1324 702.5L1342 719.25L1360 720L1378 723.75L1396.5 732L1415.5 711.75L1433.5 691.25L1451.5 662.5L1469.5 632L1487.5 568L1505.5 496.25L1524.25 447.5L1542.25 397.5L1560.25 334.5L1578.25 326.25L1596.25 348.25L1614.25 352.5L1633.25 369.5L1651.25 419.5L1669.25 443.75L1687.25 417.5L1704.5 393.75" fill="none" stroke="#f59a0c" stroke-width="1.0" stroke-linejoin="round" shape-rendering="crispEdges"/>
<circle cx="52.5" cy="584.5" r="1.4" fill="#f59a0c"/>
<rect x="44" y="734" width="1701" height="1" fill="#8a4513" />
<rect x="44" y="955" width="1702" height="1" fill="#6c6c6c" />
<rect x="1705" y="132" width="1" height="1007" fill="#696969" />
<text x="1460.8" y="182.25" font-size="30.2346" fill="#ff3238" textLength="87" lengthAdjust="spacingAndGlyphs"  stroke="#14171c" stroke-width="0.55">4.8365</text>
<path d="M1548 171.5H1578.5M1570.8 164L1578.6 171.5L1570.8 179" stroke="#d4d4d4" stroke-width="1.1" fill="none"/>
<text x="334" y="1011.05" font-size="30.2346" fill="#1dc558" textLength="86.5" lengthAdjust="spacingAndGlyphs"  stroke="#14171c" stroke-width="0.55">4.0015</text>
<path d="M421 1000.5H451.8M444 993L451.9 1000.5L444 1008" stroke="#d4d4d4" stroke-width="1.1" fill="none"/>
<text x="1750" y="219.25" font-size="30.2346" fill="#a2a2a2" textLength="54.5" lengthAdjust="spacingAndGlyphs"  stroke="#14171c" stroke-width="0.55">4.80</text>
<text x="1750" y="417.25" font-size="30.2346" fill="#a2a2a2" textLength="54.5" lengthAdjust="spacingAndGlyphs"  stroke="#14171c" stroke-width="0.55">4.60</text>
<text x="1750" y="616.25" font-size="30.2346" fill="#a2a2a2" textLength="54.5" lengthAdjust="spacingAndGlyphs"  stroke="#14171c" stroke-width="0.55">4.40</text>
<text x="1750" y="815.25" font-size="30.2346" fill="#a2a2a2" textLength="54.5" lengthAdjust="spacingAndGlyphs"  stroke="#14171c" stroke-width="0.55">4.20</text>
<text x="1750" y="1012.25" font-size="30.2346" fill="#a2a2a2" textLength="54.5" lengthAdjust="spacingAndGlyphs"  stroke="#14171c" stroke-width="0.55">4.00</text>
<path d="M1745 734.2L1754.4 725.8V715.4H1864V754.5H1754.4V741.7Z" fill="#8b4311"/>
<text x="1762.7" y="747.05" font-size="30.031" fill="#ffffff" textLength="86.5" lengthAdjust="spacingAndGlyphs"  stroke="#8b4311" stroke-width="0.55">4.2697</text>
<circle cx="1810" cy="986.8" r="15.3" fill="#25272d"/>
<rect x="1746" y="933.7" width="118" height="42.5" fill="#575966" />
<text x="1748.8" y="966.35" font-size="30.4382" fill="#ffffff" textLength="86.2" lengthAdjust="spacingAndGlyphs"  stroke="#575966" stroke-width="0.55">4.0469</text>
<path d="M1821 977L1809.3 988.7M1809 977V988.7H1817" stroke="#3cd0d4" stroke-width="2" fill="none"/>
<text x="1750" y="1119.25" font-size="30.2346" fill="#a2a2a2" textLength="69" lengthAdjust="spacingAndGlyphs"  stroke="#14171c" stroke-width="0.55">0.000</text>
<rect x="45.3" y="1026.1" width="35.4" height="35.4" fill="#2b2b32" rx="3.5"/>
<text x="55.9" y="1055.25" font-size="30.3364" fill="#f2f2f2" textLength="14.2" lengthAdjust="spacingAndGlyphs"  stroke="#2b2b32" stroke-width="0.55">?</text>
<text x="85" y="1055.35" font-size="30.9472" fill="#f2f2f2" textLength="196" lengthAdjust="spacingAndGlyphs"  stroke="#14171c" stroke-width="0.55">MACD(12,26,9)</text>
<text x="293.5" y="1055.35" font-size="30.9472" fill="#f2f2f2" textLength="144" lengthAdjust="spacingAndGlyphs"  stroke="#14171c" stroke-width="0.55">DIF: 0.0889</text>
<text x="450" y="1055.35" font-size="30.9472" fill="#ffa20a" textLength="155" lengthAdjust="spacingAndGlyphs"  stroke="#14171c" stroke-width="0.55">DEA: 0.0890</text>
<text x="618.5" y="1055.35" font-size="30.9472" fill="#43f3f3" textLength="196.5" lengthAdjust="spacingAndGlyphs"  stroke="#14171c" stroke-width="0.55">MACD: -0.0001</text>
<rect x="52" y="1108.5" width="1.5" height="20.6" fill="#35c4c8" />
<rect x="70" y="1108.5" width="1.5" height="21.3" fill="#35c4c8" />
<rect x="88" y="1108.5" width="1.5" height="23" fill="#35c4c8" />
<rect x="106" y="1108.5" width="1.5" height="20.3" fill="#35c4c8" />
<rect x="124" y="1108.5" width="1.5" height="19" fill="#35c4c8" />
<rect x="142" y="1108.5" width="1.5" height="17.3" fill="#35c4c8" />
<rect x="161" y="1108.5" width="1.5" height="17" fill="#35c4c8" />
<rect x="179" y="1108.5" width="1.5" height="15.3" fill="#35c4c8" />
<rect x="197" y="1108.5" width="1.5" height="12.3" fill="#35c4c8" />
<rect x="215" y="1108.5" width="1.5" height="10.3" fill="#35c4c8" />
<rect x="233" y="1108.5" width="1.5" height="8.7" fill="#35c4c8" />
<rect x="251" y="1108.5" width="1.5" height="7" fill="#35c4c8" />
<rect x="270" y="1108.5" width="1.5" height="6.3" fill="#35c4c8" />
<rect x="288" y="1108.5" width="1.5" height="5.7" fill="#35c4c8" />
<rect x="306" y="1108.5" width="1.5" height="2" fill="#35c4c8" />
<rect x="324" y="1106.8" width="1.5" height="1.7" fill="#d00000" />
<rect x="342" y="1108.5" width="1.5" height="4.7" fill="#35c4c8" />
<rect x="360" y="1108.5" width="1.5" height="1.3" fill="#35c4c8" />
<rect x="379" y="1108.5" width="1.5" height="4" fill="#35c4c8" />
<rect x="397" y="1108.5" width="1.5" height="7.3" fill="#35c4c8" />
<rect x="415" y="1108.5" width="1.5" height="14" fill="#35c4c8" />
<rect x="433" y="1108.5" width="1.5" height="20.6" fill="#35c4c8" />
<rect x="451" y="1108.5" width="1.5" height="23" fill="#35c4c8" />
<rect x="470" y="1108.5" width="1.5" height="24" fill="#35c4c8" />
<rect x="488" y="1108.5" width="1.5" height="20.3" fill="#35c4c8" />
<rect x="506" y="1108.5" width="1.5" height="15.3" fill="#35c4c8" />
<rect x="524" y="1108.5" width="1.5" height="11.3" fill="#35c4c8" />
<rect x="542" y="1108.5" width="1.5" height="9.7" fill="#35c4c8" />
<rect x="560" y="1108.5" width="1.5" height="8.7" fill="#35c4c8" />
<rect x="579" y="1108.5" width="1.5" height="6.3" fill="#35c4c8" />
<rect x="597" y="1108.5" width="1.5" height="3.7" fill="#35c4c8" />
<rect x="615" y="1108.5" width="1.5" height="1" fill="#35c4c8" />
<rect x="633" y="1107.5" width="1.5" height="1" fill="#d00000" />
<rect x="651" y="1105.3" width="1.5" height="3.2" fill="#d00000" />
<rect x="669" y="1100.8" width="1.5" height="7.7" fill="#d00000" />
<rect x="688" y="1098.9" width="1.5" height="9.6" fill="#d00000" />
<rect x="706" y="1096.9" width="1.5" height="11.6" fill="#d00000" />
<rect x="724" y="1096.9" width="1.5" height="11.6" fill="#d00000" />
<rect x="742" y="1093.9" width="1.5" height="14.6" fill="#d00000" />
<rect x="760" y="1092.2" width="1.5" height="16.3" fill="#d00000" />
<rect x="778" y="1092.2" width="1.5" height="16.3" fill="#d00000" />
<rect x="797" y="1093.9" width="1.5" height="14.6" fill="#d00000" />
<rect x="815" y="1096.9" width="1.5" height="11.6" fill="#d00000" />
<rect x="833" y="1100.2" width="1.5" height="8.3" fill="#d00000" />
<rect x="851" y="1103.8" width="1.5" height="4.7" fill="#d00000" />
<rect x="869" y="1108.5" width="1.5" height="0.7" fill="#35c4c8" />
<rect x="888" y="1108.5" width="1.5" height="3.7" fill="#35c4c8" />
<rect x="906" y="1108.5" width="1.5" height="4.3" fill="#35c4c8" />
<rect x="924" y="1108.5" width="1.5" height="5.3" fill="#35c4c8" />
<rect x="942" y="1108.5" width="1.5" height="4.3" fill="#35c4c8" />
<rect x="960" y="1108.5" width="1.5" height="2.3" fill="#35c4c8" />
<rect x="978" y="1108.5" width="1.5" height="1.7" fill="#35c4c8" />
<rect x="997" y="1108.5" width="1.5" height="1.7" fill="#35c4c8" />
<rect x="1015" y="1108.5" width="1.5" height="4.7" fill="#35c4c8" />
<rect x="1033" y="1108.5" width="1.5" height="5.7" fill="#35c4c8" />
<rect x="1051" y="1108.5" width="1.5" height="3.7" fill="#35c4c8" />
<rect x="1069" y="1108" width="1.5" height="0.5" fill="#d00000" />
<rect x="1087" y="1103.8" width="1.5" height="4.7" fill="#d00000" />
<rect x="1106" y="1096.9" width="1.5" height="11.6" fill="#d00000" />
<rect x="1124" y="1090.9" width="1.5" height="17.6" fill="#d00000" />
<rect x="1142" y="1088.9" width="1.5" height="19.6" fill="#d00000" />
<rect x="1160" y="1087.9" width="1.5" height="20.6" fill="#d00000" />
<rect x="1178" y="1085.9" width="1.5" height="22.6" fill="#d00000" />
<rect x="1196" y="1084.5" width="1.5" height="24" fill="#d00000" />
<rect x="1215" y="1082.9" width="1.5" height="25.6" fill="#d00000" />
<rect x="1233" y="1087.9" width="1.5" height="20.6" fill="#d00000" />
<rect x="1251" y="1091.9" width="1.5" height="16.6" fill="#d00000" />
<rect x="1269" y="1097.9" width="1.5" height="10.6" fill="#d00000" />
<rect x="1287" y="1100.8" width="1.5" height="7.7" fill="#d00000" />
<rect x="1306" y="1104.8" width="1.5" height="3.7" fill="#d00000" />
<rect x="1324" y="1108.5" width="1.5" height="0.7" fill="#35c4c8" />
<rect x="1342" y="1108.5" width="1.5" height="4" fill="#35c4c8" />
<rect x="1360" y="1108.5" width="1.5" height="4" fill="#35c4c8" />
<rect x="1378" y="1108.5" width="1.5" height="3.3" fill="#35c4c8" />
<rect x="1396" y="1108.5" width="1.5" height="4" fill="#35c4c8" />
<rect x="1415" y="1108.5" width="1.5" height="2.3" fill="#35c4c8" />
<rect x="1433" y="1108.5" width="1.5" height="0.7" fill="#35c4c8" />
<rect x="1451" y="1105.2" width="1.5" height="3.3" fill="#d00000" />
<rect x="1469" y="1101.2" width="1.5" height="7.3" fill="#d00000" />
<rect x="1487" y="1093.9" width="1.5" height="14.6" fill="#d00000" />
<rect x="1505" y="1085.2" width="1.5" height="23.3" fill="#d00000" />
<rect x="1524" y="1086.5" width="1.5" height="22" fill="#d00000" />
<rect x="1542" y="1084.2" width="1.5" height="24.3" fill="#d00000" />
<rect x="1560" y="1080.5" width="1.5" height="28" fill="#d00000" />
<rect x="1578" y="1085.9" width="1.5" height="22.6" fill="#d00000" />
<rect x="1596" y="1093.9" width="1.5" height="14.6" fill="#d00000" />
<rect x="1614" y="1101.2" width="1.5" height="7.3" fill="#d00000" />
<rect x="1633" y="1105.2" width="1.5" height="3.3" fill="#d00000" />
<rect x="1651" y="1108.5" width="1.5" height="1" fill="#35c4c8" />
<rect x="1669" y="1108.5" width="1.5" height="7" fill="#35c4c8" />
<rect x="1687" y="1108.5" width="1.5" height="2.3" fill="#35c4c8" />
<path d="M52.6 1094.3L88.5 1101.3L124.5 1105.6L161 1108.6L197.4 1110.2L233.3 1110.9L288.2 1111.6L306.1 1110.6L324.4 1107.9L342.4 1112.6L360.7 1109.9L379.3 1110.9L397.3 1114.9L415.3 1121.5L433.6 1127.5L451.5 1130.9L470.5 1134.5L506.4 1134.5L524.4 1133.9L560.6 1134.5L597.2 1133.2L633.2 1130.5L651.3 1127.5L688.6 1122.5L724.5 1118.2L760.4 1113.2L797.4 1109.6L833.3 1110.6L851.2 1112.2L888.2 1117.2L924.4 1120.2L942.4 1120.9L978.7 1119.2L1015.3 1120.9L1033.5 1122.5L1051.5 1122.2L1069.5 1119.9L1087.4 1117.2L1106.4 1112.2L1124.4 1105.9L1142.3 1103.2L1160.6 1100.3L1178.6 1096.9L1196.6 1092.6L1215.2 1088.6L1233.2 1088.6L1251.3 1088.9L1269.6 1090.9L1287.6 1090.9L1306.5 1092.3L1324.5 1094.3L1342.5 1097.3L1360.4 1098.6L1378.4 1098.6L1396.4 1099.6L1415.3 1098.3L1433.3 1096.9L1451.2 1094.3L1469.2 1092.3L1487.2 1085.9L1505.1 1079.3L1524.4 1076L1542.4 1072L1560.7 1066L1578.7 1067.3L1596.6 1070L1614.6 1071.6L1633.5 1074L1651.5 1076.6L1669.5 1080.6L1687.4 1078.6L1705.4 1077.3" fill="none" stroke="#f0f0f0" stroke-width="1.2" stroke-linejoin="round" shape-rendering="crispEdges"/>
<path d="M52.6 1083.3L88.5 1089.9L124.5 1095.9L161 1099.9L197.4 1103.6L233.3 1105.6L270.2 1107.6L306.1 1108.6L324.4 1108.6L360.7 1109.6L397.3 1110.6L415.3 1112.6L433.6 1115.6L451.5 1118.9L470.5 1122.2L488.4 1124.5L506.4 1126.5L542.3 1128.9L579.3 1131.2L615.2 1131.5L651.4 1130.9L688.6 1127.5L724.5 1123.9L760.4 1120.2L797.4 1116.9L833.3 1114.9L851.2 1113.9L888.2 1115.2L924.4 1117.2L960.7 1118.2L997.3 1118.9L1033.5 1120.2L1051.5 1121.2L1069.5 1120.2L1087.4 1119.2L1106.4 1117.2L1124.4 1114.2L1142.3 1112.2L1160.6 1109.6L1178.6 1106.9L1196.6 1104.2L1215.2 1101.3L1233.2 1098.9L1251.3 1096.6L1269.6 1095.3L1287.6 1093.9L1306.5 1093.6L1324.5 1094.3L1342.5 1094.9L1360.4 1095.6L1378.4 1096.3L1396.4 1096.6L1415.3 1097.6L1433.3 1097.3L1451.2 1096.3L1469.2 1094.9L1487.2 1093.3L1505.1 1090.9L1524.4 1087.6L1542.4 1084.9L1560.7 1081.6L1578.7 1078.3L1596.6 1076L1614.6 1075L1633.5 1075L1651.5 1075.3L1669.5 1076L1687.4 1077.3L1705.4 1077.3" fill="none" stroke="#f59a0c" stroke-width="1.2" stroke-linejoin="round" shape-rendering="crispEdges"/>
<rect x="52" y="1140" width="1" height="20" fill="#43464c" />
<rect x="124" y="1140" width="1" height="7.5" fill="#43464c" />
<rect x="215" y="1140" width="1" height="7.5" fill="#43464c" />
<rect x="288" y="1140" width="1" height="20" fill="#43464c" />
<rect x="306" y="1140" width="1" height="7.5" fill="#43464c" />
<rect x="397" y="1140" width="1" height="7.5" fill="#43464c" />
<rect x="488" y="1140" width="1" height="7.5" fill="#43464c" />
<rect x="579" y="1140" width="1" height="7.5" fill="#43464c" />
<rect x="651" y="1140" width="1" height="20" fill="#43464c" />
<rect x="742" y="1140" width="1" height="7.5" fill="#43464c" />
<rect x="833" y="1140" width="1" height="7.5" fill="#43464c" />
<rect x="924" y="1140" width="1" height="7.5" fill="#43464c" />
<rect x="997" y="1140" width="1" height="7.5" fill="#43464c" />
<rect x="1033" y="1140" width="1" height="20" fill="#43464c" />
<rect x="1069" y="1140" width="1" height="7.5" fill="#43464c" />
<rect x="1160" y="1140" width="1" height="7.5" fill="#43464c" />
<rect x="1251" y="1140" width="1" height="7.5" fill="#43464c" />
<rect x="1324" y="1140" width="1" height="7.5" fill="#43464c" />
<rect x="1415" y="1140" width="1" height="20" fill="#43464c" />
<rect x="1504" y="1140" width="1" height="7.5" fill="#43464c" />
<text x="57.5" y="1170.85" font-size="29.1148" fill="#a2a2a2" textLength="74" lengthAdjust="spacingAndGlyphs"  stroke="#14171c" stroke-width="0.55">24-10</text>
<text x="293.5" y="1170.85" font-size="29.1148" fill="#a2a2a2" textLength="74" lengthAdjust="spacingAndGlyphs"  stroke="#14171c" stroke-width="0.55">24-11</text>
<text x="656.5" y="1170.85" font-size="29.1148" fill="#a2a2a2" textLength="74" lengthAdjust="spacingAndGlyphs"  stroke="#14171c" stroke-width="0.55">24-12</text>
<text x="1038.5" y="1170.85" font-size="29.1148" fill="#a2a2a2" textLength="74" lengthAdjust="spacingAndGlyphs"  stroke="#14171c" stroke-width="0.55">25-01</text>
<text x="1420.5" y="1170.85" font-size="29.1148" fill="#a2a2a2" textLength="74" lengthAdjust="spacingAndGlyphs"  stroke="#14171c" stroke-width="0.55">25-02</text>
<rect x="1537.7" y="1140.4" width="207" height="42.8" fill="#575966" />
<text x="1543" y="1173.45" font-size="30.54" fill="#ffffff" textLength="140.6" lengthAdjust="spacingAndGlyphs"  stroke="#575966" stroke-width="0.55">2025-2-26(</text>
<text x="1685" y="1174" font-size="30" fill="#ffffff">三</text>
<text x="1713.6" y="1173.45" font-size="30.54" fill="#ffffff" textLength="8" lengthAdjust="spacingAndGlyphs"  stroke="#575966" stroke-width="0.55">)</text>
<rect x="44" y="1184" width="1772" height="52" fill="#222228" />
<rect x="44" y="1184" width="155" height="52" fill="#555866" />
<rect x="198" y="1184" width="2" height="52" fill="#0d0e11" />
<rect x="337" y="1184" width="2" height="52" fill="#0d0e11" />
<rect x="455" y="1184" width="2" height="52" fill="#0d0e11" />
<rect x="567" y="1184" width="2" height="52" fill="#0d0e11" />
<rect x="691" y="1184" width="2" height="52" fill="#0d0e11" />
<rect x="831" y="1184" width="2" height="52" fill="#0d0e11" />
<rect x="945" y="1184" width="2" height="52" fill="#0d0e11" />
<rect x="1013" y="1184" width="2" height="52" fill="#0d0e11" />
<rect x="44" y="1235.5" width="1820" height="2.5" fill="#2b2c33" />
<text x="61" y="1221.05" font-size="31.8634" fill="#ffffff" textLength="87.5" lengthAdjust="spacingAndGlyphs"  stroke="#555866" stroke-width="0.55">MACD</text>
<text x="217.5" y="1221.05" font-size="31.8634" fill="#f2f2f2" textLength="70" lengthAdjust="spacingAndGlyphs"  stroke="#222228" stroke-width="0.55">BOLL</text>
<text x="356" y="1221.05" font-size="31.8634" fill="#f2f2f2" textLength="48" lengthAdjust="spacingAndGlyphs"  stroke="#222228" stroke-width="0.55">KDJ</text>
<text x="474" y="1221.05" font-size="31.8634" fill="#f2f2f2" textLength="42" lengthAdjust="spacingAndGlyphs"  stroke="#222228" stroke-width="0.55">RSI</text>
<text x="586" y="1221.05" font-size="31.8634" fill="#f2f2f2" textLength="54" lengthAdjust="spacingAndGlyphs"  stroke="#222228" stroke-width="0.55">SAR</text>
<text x="708.5" y="1221.05" font-size="31.8634" fill="#f2f2f2" textLength="72.5" lengthAdjust="spacingAndGlyphs"  stroke="#222228" stroke-width="0.55">W&amp;R</text>
<text x="849" y="1221.05" font-size="31.8634" fill="#f2f2f2" textLength="46" lengthAdjust="spacingAndGlyphs"  stroke="#222228" stroke-width="0.55">CCI</text>
<rect x="964" y="1194" width="32.5" height="32.5" fill="none" stroke="#b9babd" stroke-width="1.6"/>
<path d="M980.2 1199.5V1221M969.5 1210.2H991" stroke="#b9babd" stroke-width="1.6"/>
<path d="M1816 1238V986a15 15 0 0 1 15-15H1864V1238Z" fill="#252633"/>
<path d="M1864 1055H1858a10 10 0 0 0-10 10V1157a10 10 0 0 0 10 10H1864Z" fill="#1b2590"/>
<rect x="1848" y="1066" width="2" height="90" fill="#3446b4" />
<path d="M1864 1199H1858a10 10 0 0 0-10 10V1238H1864Z" fill="#3b3b49"/>
<g stroke="#70707c" stroke-width="3.5" fill="none"><circle cx="1854.7" cy="1009.8" r="4.7"/><path d="M1860.5 1010V992.3"/><path d="M1860.5 994c1.2 2.6 3 3.8 5.5 4"/></g>
</svg>
</body></html>
